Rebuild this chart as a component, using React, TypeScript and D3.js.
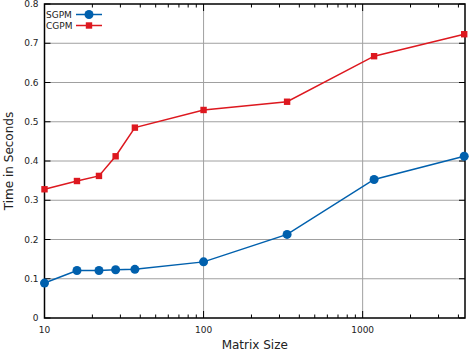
import React, { useEffect, useRef } from 'react';
import * as d3 from 'd3';

const matrixSizes = [10, 16, 22, 28, 37, 100, 335, 1180, 4350];
const sgpmTimes = [0.089, 0.121, 0.121, 0.123, 0.124, 0.143, 0.213, 0.353, 0.412];
const cgpmTimes = [0.328, 0.349, 0.362, 0.412, 0.485, 0.530, 0.551, 0.667, 0.723];
const yTicks = [0, 0.1, 0.2, 0.3, 0.4, 0.5, 0.6, 0.7, 0.8];
const xMajor = [10, 100, 1000];

const App = () => {
    const svgRef = useRef<SVGSVGElement>(null);

    useEffect(() => {
        const svg = d3.select(svgRef.current);
        const width = 470;
        const height = 352;
        const margin = { top: 4, right: 5, bottom: 34, left: 44.5 };
        const font = 'DejaVu Sans, sans-serif';

        svg.selectAll('*').remove();

        const x = d3.scaleLog()
            .domain([10, 4400])
            .range([margin.left, width - margin.right]);
        const y = d3.scaleLinear()
            .domain([0, 0.8])
            .range([height - margin.bottom, margin.top]);

        const x0 = x.range()[0], x1 = x.range()[1];
        const y0 = y.range()[0], y1 = y.range()[1];

        // сетка
        const grid = svg.append('g').attr('stroke', '#a0a0a0').attr('stroke-width', 1);
        yTicks.slice(1, -1).forEach(t => {
            grid.append('line').attr('x1', x0).attr('x2', x1).attr('y1', y(t)).attr('y2', y(t));
        });
        xMajor.slice(1).forEach(t => {
            grid.append('line').attr('x1', x(t)).attr('x2', x(t)).attr('y1', y0).attr('y2', y1);
        });

        // малые деления логарифмической оси
        const minor: number[] = [];
        [10, 100, 1000].forEach(d => {
            for (let k = 2; k <= 9; k++) if (d * k <= 4400) minor.push(d * k);
        });
        const ticks = svg.append('g').attr('stroke', '#000').attr('stroke-width', 1);
        minor.forEach(t => {
            ticks.append('line').attr('x1', x(t)).attr('x2', x(t)).attr('y1', y0).attr('y2', y0 - 3.5);
            ticks.append('line').attr('x1', x(t)).attr('x2', x(t)).attr('y1', y1).attr('y2', y1 + 3.5);
        });
        xMajor.forEach(t => {
            ticks.append('line').attr('x1', x(t)).attr('x2', x(t)).attr('y1', y0).attr('y2', y0 - 7);
            ticks.append('line').attr('x1', x(t)).attr('x2', x(t)).attr('y1', y1).attr('y2', y1 + 7);
        });
        yTicks.forEach(t => {
            ticks.append('line').attr('x1', x0).attr('x2', x0 + 6).attr('y1', y(t)).attr('y2', y(t));
            ticks.append('line').attr('x1', x1).attr('x2', x1 - 6).attr('y1', y(t)).attr('y2', y(t));
        });

        // рамка
        svg.append('rect')
            .attr('x', x0).attr('y', y1)
            .attr('width', x1 - x0).attr('height', y0 - y1)
            .attr('fill', 'none').attr('stroke', '#000').attr('stroke-width', 1.5);

        // подписи осей
        svg.append('g').selectAll('text')
            .data(yTicks)
            .enter()
            .append('text')
            .attr('x', x0 - 6)
            .attr('y', d => y(d) + 3)
            .attr('text-anchor', 'end')
            .attr('font-family', font)
            .attr('font-size', '9px')
            .attr('fill', '#222')
            .text(d => d === 0 ? '0' : d3.format('.1f')(d));

        svg.append('g').selectAll('text')
            .data(xMajor)
            .enter()
            .append('text')
            .attr('x', d => x(d))
            .attr('y', y0 + 15)
            .attr('text-anchor', 'middle')
            .attr('font-family', font)
            .attr('font-size', '9px')
            .attr('fill', '#222')
            .text(d => String(d));

        svg.append('text')
            .attr('x', (x0 + x1) / 2)
            .attr('y', 349)
            .attr('text-anchor', 'middle')
            .attr('font-family', font)
            .attr('font-size', '12px')
            .attr('fill', '#222')
            .text('Matrix Size');

        svg.append('text')
            .attr('transform', `translate(13,${(y0 + y1) / 2}) rotate(-90)`)
            .attr('text-anchor', 'middle')
            .attr('font-family', font)
            .attr('font-size', '12px')
            .attr('fill', '#222')
            .text('Time in Seconds');

        const series = [
            { name: 'SGPM', values: sgpmTimes, color: '#0060ad', marker: 'circle' },
            { name: 'CGPM', values: cgpmTimes, color: '#dd181f', marker: 'square' }
        ];

        const line = d3.line<number>()
            .x((d, i) => x(matrixSizes[i]))
            .y(d => y(d));

        const drawMarker = (g: any, cx: number, cy: number, s: typeof series[0]) => {
            if (s.marker === 'circle') {
                g.append('circle').attr('cx', cx).attr('cy', cy).attr('r', 4.5).attr('fill', s.color);
            } else {
                g.append('rect').attr('x', cx - 3.2).attr('y', cy - 3.2)
                    .attr('width', 6.4).attr('height', 6.4).attr('fill', s.color);
            }
        };

        series.forEach((s, si) => {
            const g = svg.append('g');
            g.append('path')
                .datum(s.values)
                .attr('d', line)
                .attr('fill', 'none')
                .attr('stroke', s.color)
                .attr('stroke-width', 1.5);
            s.values.forEach((v, i) => drawMarker(g, x(matrixSizes[i]), y(v), s));

            // легенда
            const ly = 14.5 + si * 11;
            g.append('text')
                .attr('x', 46)
                .attr('y', ly + 3)
                .attr('font-family', font)
                .attr('font-size', '9px')
                .attr('fill', '#222')
                .text(s.name);
            g.append('line')
                .attr('x1', 76).attr('x2', 102).attr('y1', ly).attr('y2', ly)
                .attr('stroke', s.color).attr('stroke-width', 1.5);
            drawMarker(g, 89, ly, s);
        });
    }, []);

    return (
        <svg ref={svgRef} width={470} height={352}
            style={{ position: 'absolute', left: 0, top: 0, background: '#fff' }} />
    );
};

export default App;
